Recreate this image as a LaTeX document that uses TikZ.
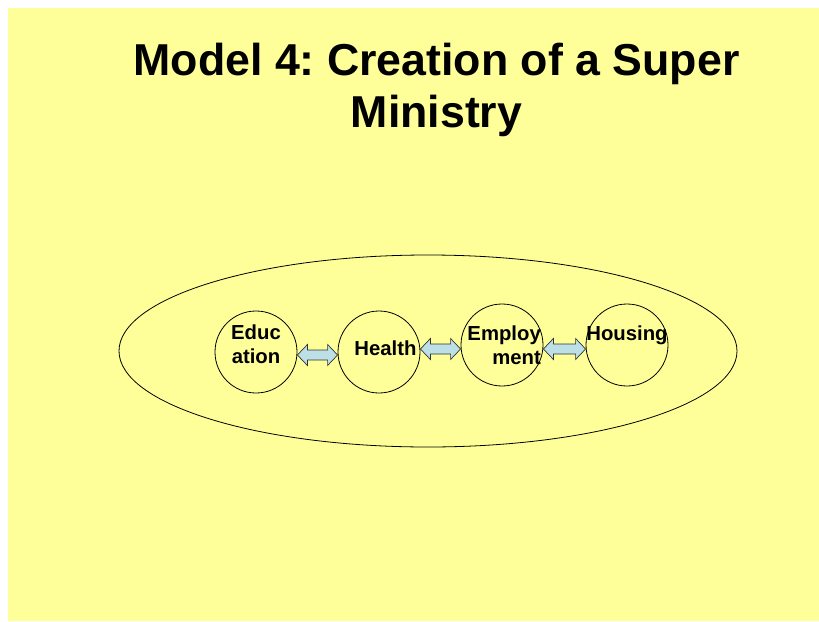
\documentclass[tikz,border=0pt]{standalone}
\usepackage{fontspec}
\setmainfont{Liberation Sans}
\usetikzlibrary{shapes.geometric,calc}
\definecolor{bgyellow}{HTML}{FFFF99}
\definecolor{arrowblue}{HTML}{BCE0E6}
\tikzset{
  unit/.style={circle, draw, line width=0.8pt, minimum size=82pt, inner sep=0pt},
  lbl/.style={font=\fontsize{20.3}{24}\selectfont\bfseries, inner sep=0pt},
  ttl/.style={font=\fontsize{44.7}{52}\selectfont\bfseries, inner sep=0pt, anchor=base},
  link/.style={draw=black!80, line width=0.7pt, fill=arrowblue, line join=miter}
}
% double block arrow between two named circles; #3 = vertical offset (up positive)
\newcommand\dblarr[3]{%
  \draw[link] let \p1=(#1.east), \p2=(#2.west), \n1={\y1+#3} in
    (\x1,\n1) -- (\x1+10pt,\n1+10.5pt) -- (\x1+10pt,\n1+5pt) -- (\x2-10pt,\n1+5pt)
    -- (\x2-10pt,\n1+10.5pt) -- (\x2,\n1) -- (\x2-10pt,\n1-10.5pt) -- (\x2-10pt,\n1-5pt)
    -- (\x1+10pt,\n1-5pt) -- (\x1+10pt,\n1-10.5pt) -- cycle;}
\begin{document}
\frenchspacing
\begin{tikzpicture}[x=1pt,y=-1pt]
\useasboundingbox (0,0) rectangle (819,621);
\fill[white] (0,0) rectangle (819,621);
\fill[bgyellow] (8,8) rectangle (819,621);
\node[ttl] (t1) at (436.5,75) {Model 4: Creation of a Super};
\node[ttl] (t2) at (436.5,127) {Ministry};
\node[ellipse, draw, line width=0.8pt, minimum width=618pt, minimum height=192pt, inner sep=0pt] (outer) at (428,351) {};
\node[unit] (edu) at (256,352) {};
\node[unit] (hea) at (379,352) {};
\node[unit] (emp) at (502,345) {};
\node[unit] (hou) at (627,345) {};
\node[lbl, anchor=base] (edu1) at (256,339) {Educ};
\node[lbl, anchor=base] (edu2) at (256,363) {ation};
\node[lbl, anchor=base] (hea1) at (385.5,355) {Health};
\node[lbl, anchor=base east] (emp1) at (541,340) {Employ};
\node[lbl, anchor=base east] (emp2) at (541,364) {ment};
\node[lbl, anchor=base] (hou1) at (627,340) {Housing};
\dblarr{edu}{hea}{-3pt}
\dblarr{hea}{emp}{3pt}
\dblarr{emp}{hou}{-4pt}
\end{tikzpicture}
\end{document}
